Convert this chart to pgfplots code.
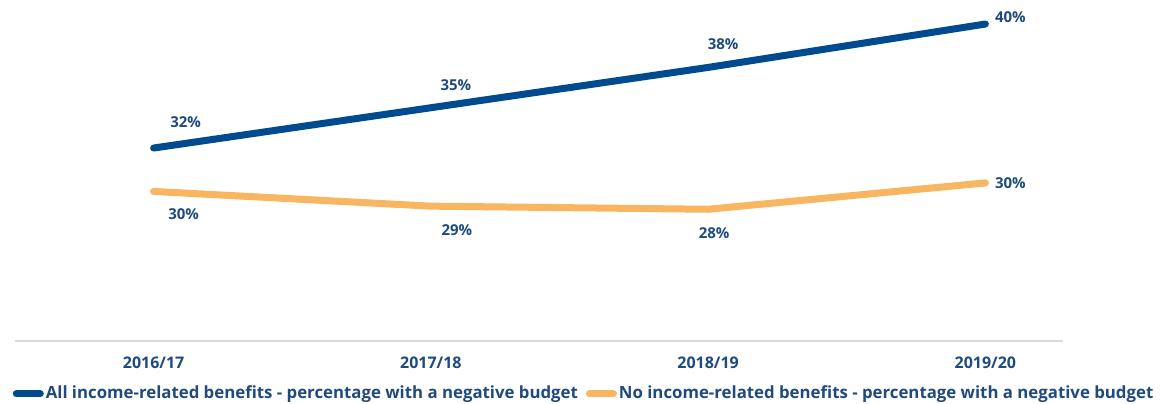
\documentclass[border=0pt]{standalone}
\usepackage{fontspec}
\setmainfont{Open Sans}
\usepackage{pgfplots}
\usepackage{pgfplotstable}
\pgfplotsset{compat=1.18}

\definecolor{allblue}{HTML}{004A8F}
\definecolor{noorange}{HTML}{F8B660}
\definecolor{txtblue}{HTML}{1F4A7E}
\definecolor{axisgray}{HTML}{D9D9D9}

% x, value, printed label, label shift (dx, dy in pt)
\pgfplotstableread{
x y lab dx dy
0 32.45 32 16 13
1 35.05 35 12.5 11.5
2 37.65 38 7.5 11.5
3 40.45 40 12.5 3.5
}\allincome
\pgfplotstableread{
x y lab dx dy
0 29.65 30 15 -11.5
1 28.70 29 13 -12
2 28.50 28 3 -12
3 30.20 30 12.5 0
}\noincome

\begin{document}
\begin{tikzpicture}
\begin{axis}[
  scale only axis,
  width=524pt, height=170.5pt,
  xmin=-0.5, xmax=3.28,
  ymin=20, ymax=42,
  axis x line*=bottom,
  axis y line=none,
  x axis line style={axisgray, line width=0.6pt, -},
  xtick={0,1,2,3},
  xticklabels={2016/17,2017/18,2018/19,2019/20},
  major tick length=0pt,
  xticklabel style={font=\bfseries\fontsize{8}{9}\selectfont, text=txtblue, yshift=-4.5pt},
  ytick=\empty,
  clip=false,
  /pgf/number format/assume math mode=true,
  point meta=\thisrow{lab},
  nodes near coords={\pgfmathprintnumber[fixed, precision=0]{\pgfplotspointmeta}\%},
  visualization depends on={\thisrow{dx}\as\dx},
  visualization depends on={\thisrow{dy}\as\dy},
  nodes near coords style={anchor=center, xshift=\dx pt, yshift=\dy pt,
    font=\bfseries\fontsize{7.5}{9}\selectfont, text=txtblue},
  legend columns=2,
  legend style={draw=none, fill=none, at={(0.543,-0.155)}, anchor=center,
    font=\bfseries\fontsize{8.4}{10}\selectfont, text=txtblue,
    nodes={inner xsep=1pt},
    /tikz/every even column/.append style={column sep=3pt},
    inner sep=0pt},
  legend image code/.code={\draw[#1, line width=3.5pt, line cap=round] (0pt,0pt) -- (12pt,0pt);},
]
\addplot[allblue, line width=3.5pt, line cap=round, mark=none]
  table[x=x, y=y] {\allincome};
\addlegendentry{All income-related benefits - percentage with a negative budget}
\addplot[noorange, line width=3.5pt, line cap=round, mark=none]
  table[x=x, y=y] {\noincome};
\addlegendentry{No income-related benefits - percentage with a negative budget}
\end{axis}
\pgfresetboundingbox
\path (current axis.south west) ++(-7.5pt,-31pt) rectangle ++(582.5pt,201.5pt);
\end{tikzpicture}
\end{document}
